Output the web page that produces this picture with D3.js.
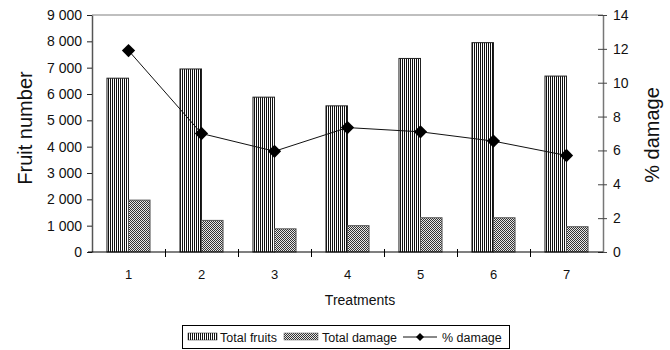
<!DOCTYPE html>
<html>
<head>
<meta charset="utf-8">
<script src="https://cdn.jsdelivr.net/npm/d3@7"></script>
<style>
  html, body { margin: 0; padding: 0; background: #fff; }
  svg { display: block; font-family: "Liberation Sans", Arial, sans-serif; }
</style>
</head>
<body>
<svg id="chart" width="670" height="350"></svg>
<script>
// Treatment categories and measured series
const treatments = ["1", "2", "3", "4", "5", "6", "7"];
const totalFruits = [6600, 6950, 5880, 5550, 7350, 7950, 6680];
const totalDamage = [1970, 1200, 880, 1000, 1300, 1300, 960];
const pctDamage = [11.9, 7.0, 5.95, 7.35, 7.1, 6.55, 5.7];

// Axis ticks
const leftTicks = [0, 1000, 2000, 3000, 4000, 5000, 6000, 7000, 8000, 9000];
const rightTicks = [0, 2, 4, 6, 8, 10, 12, 14];

const seriesNames = ["Total fruits", "Total damage"];

const svg = d3.select("#chart");
const m = { left: 92, right: 603, top: 15, bottom: 252 };

// Fill patterns: narrow vertical lines and a fine checker
const defs = svg.append("defs");
const pv = defs.append("pattern").attr("id", "vlines")
  .attr("patternUnits", "userSpaceOnUse").attr("width", 2).attr("height", 2);
pv.append("rect").attr("width", 2).attr("height", 2).attr("fill", "#fff");
pv.append("rect").attr("width", 1).attr("height", 2).attr("fill", "#111");

const pc = defs.append("pattern").attr("id", "checker")
  .attr("patternUnits", "userSpaceOnUse").attr("width", 2).attr("height", 2);
pc.append("rect").attr("width", 2).attr("height", 2).attr("fill", "#e8e8e8");
pc.append("rect").attr("width", 1).attr("height", 1).attr("fill", "#333");
pc.append("rect").attr("x", 1).attr("y", 1).attr("width", 1).attr("height", 1).attr("fill", "#333");

const fills = ["url(#vlines)", "url(#checker)"];

// Scales
const x = d3.scaleBand().domain(treatments).range([m.left, m.right])
  .paddingInner(0.41).paddingOuter(0.205);
const xSub = d3.scaleBand().domain([0, 1]).range([0, x.bandwidth()]);
const xEdges = d3.scaleLinear().domain([0, treatments.length]).range([m.left, m.right]);
const yL = d3.scaleLinear().domain([0, 9000]).range([m.bottom, m.top]);
const yR = d3.scaleLinear().domain([0, 14]).range([m.bottom, m.top]);

const fmt = d3.formatLocale({ decimal: ".", thousands: " ", grouping: [3], currency: ["", ""] }).format(",");

// Top frame line
svg.append("line")
  .attr("x1", m.left).attr("x2", m.right).attr("y1", m.top).attr("y2", m.top)
  .attr("stroke", "#aaa").attr("stroke-width", 1.5);

// Bars
const series = [totalFruits, totalDamage];
series.forEach((vals, si) => {
  svg.append("g").selectAll("rect").data(vals).join("rect")
    .attr("x", (d, i) => x(treatments[i]) + xSub(si))
    .attr("y", d => yL(d))
    .attr("width", xSub.bandwidth())
    .attr("height", d => yL(0) - yL(d))
    .attr("fill", fills[si])
    .attr("stroke", si === 0 ? "#222" : "#555")
    .attr("stroke-width", 1);
});

// Left axis
const gL = svg.append("g").attr("transform", `translate(${m.left},0)`)
  .call(d3.axisLeft(yL).tickValues(leftTicks).tickFormat(fmt).tickSizeInner(5).tickSizeOuter(0).tickPadding(5));
gL.select(".domain").attr("stroke", "#555").attr("stroke-width", 1.5);
gL.selectAll(".tick line").attr("stroke", "#222");
gL.selectAll(".tick text").attr("font-size", 14).attr("fill", "#111")
  .attr("font-family", "Liberation Sans, Arial, sans-serif");

// Right axis
const gR = svg.append("g").attr("transform", `translate(${m.right},0)`)
  .call(d3.axisRight(yR).tickValues(rightTicks).tickSizeInner(4).tickSizeOuter(0).tickPadding(6));
gR.select(".domain").attr("stroke", "#777").attr("stroke-width", 1.5);
gR.selectAll(".tick line").attr("stroke", "#444").attr("x1", -5);
gR.selectAll(".tick text").attr("font-size", 14).attr("fill", "#111")
  .attr("font-family", "Liberation Sans, Arial, sans-serif");

// Bottom axis: boundary ticks and category labels
const gE = svg.append("g").attr("transform", `translate(0,${m.bottom})`)
  .call(d3.axisBottom(xEdges).tickValues(d3.range(1, treatments.length)).tickFormat("").tickSizeInner(5).tickSizeOuter(0));
gE.select(".domain").attr("stroke", "#000").attr("stroke-width", 1.2)
  .attr("d", `M${m.left - 4},0H${m.right}`);
gE.selectAll(".tick line").attr("y1", -3).attr("stroke", "#000");

const gX = svg.append("g").attr("transform", `translate(0,${m.bottom})`)
  .call(d3.axisBottom(x).tickSize(0).tickPadding(18));
gX.select(".domain").remove();
gX.selectAll(".tick text").attr("font-size", 13).attr("fill", "#111")
  .attr("font-family", "Liberation Sans, Arial, sans-serif");

// % damage line with diamond markers
const cx = (d, i) => x(treatments[i]) + x.bandwidth() / 2;
svg.append("path").datum(pctDamage)
  .attr("fill", "none").attr("stroke", "#111").attr("stroke-width", 1)
  .attr("d", d3.line().x(cx).y(d => yR(d)));
const diamond = d3.symbol().type(d3.symbolSquare).size(88);
svg.append("g").selectAll("path").data(pctDamage).join("path")
  .attr("d", diamond)
  .attr("transform", (d, i) => `translate(${cx(d, i)},${yR(d)}) rotate(45)`)
  .attr("fill", "#000");

// Axis titles
svg.append("text").attr("transform", "translate(32,128) rotate(-90)")
  .attr("text-anchor", "middle").attr("font-size", 20).attr("fill", "#111")
  .text("Fruit number");
svg.append("text").attr("transform", "translate(659,135) rotate(-90)")
  .attr("text-anchor", "middle").attr("font-size", 20).attr("fill", "#111")
  .text("% damage");
svg.append("text").attr("x", 360).attr("y", 305)
  .attr("text-anchor", "middle").attr("font-size", 14).attr("fill", "#111")
  .text("Treatments");

// Legend
const lg = svg.append("g");
lg.append("rect").attr("x", 182.5).attr("y", 325.5).attr("width", 327).attr("height", 23)
  .attr("fill", "#fff").attr("stroke", "#000").attr("stroke-width", 1);
const sw = [{ x: 188, t: 220 }, { x: 284, t: 322 }];
seriesNames.forEach((name, si) => {
  lg.append("rect").attr("x", sw[si].x).attr("y", 333).attr("width", si === 0 ? 29 : 34).attr("height", 7)
    .attr("fill", fills[si]).attr("stroke", si === 0 ? "#222" : "#555").attr("stroke-width", 0.5);
  lg.append("text").attr("x", sw[si].t).attr("y", 341.5).attr("font-size", 12.5).attr("fill", "#111").text(name);
});
lg.append("line").attr("x1", 403).attr("x2", 437).attr("y1", 337).attr("y2", 337)
  .attr("stroke", "#111").attr("stroke-width", 1);
lg.append("path").attr("d", d3.symbol().type(d3.symbolSquare).size(32))
  .attr("transform", "translate(420,337) rotate(45)").attr("fill", "#000");
lg.append("text").attr("x", 442).attr("y", 341.5).attr("font-size", 12.5).attr("fill", "#111").text("% damage");
</script>
</body>
</html>
